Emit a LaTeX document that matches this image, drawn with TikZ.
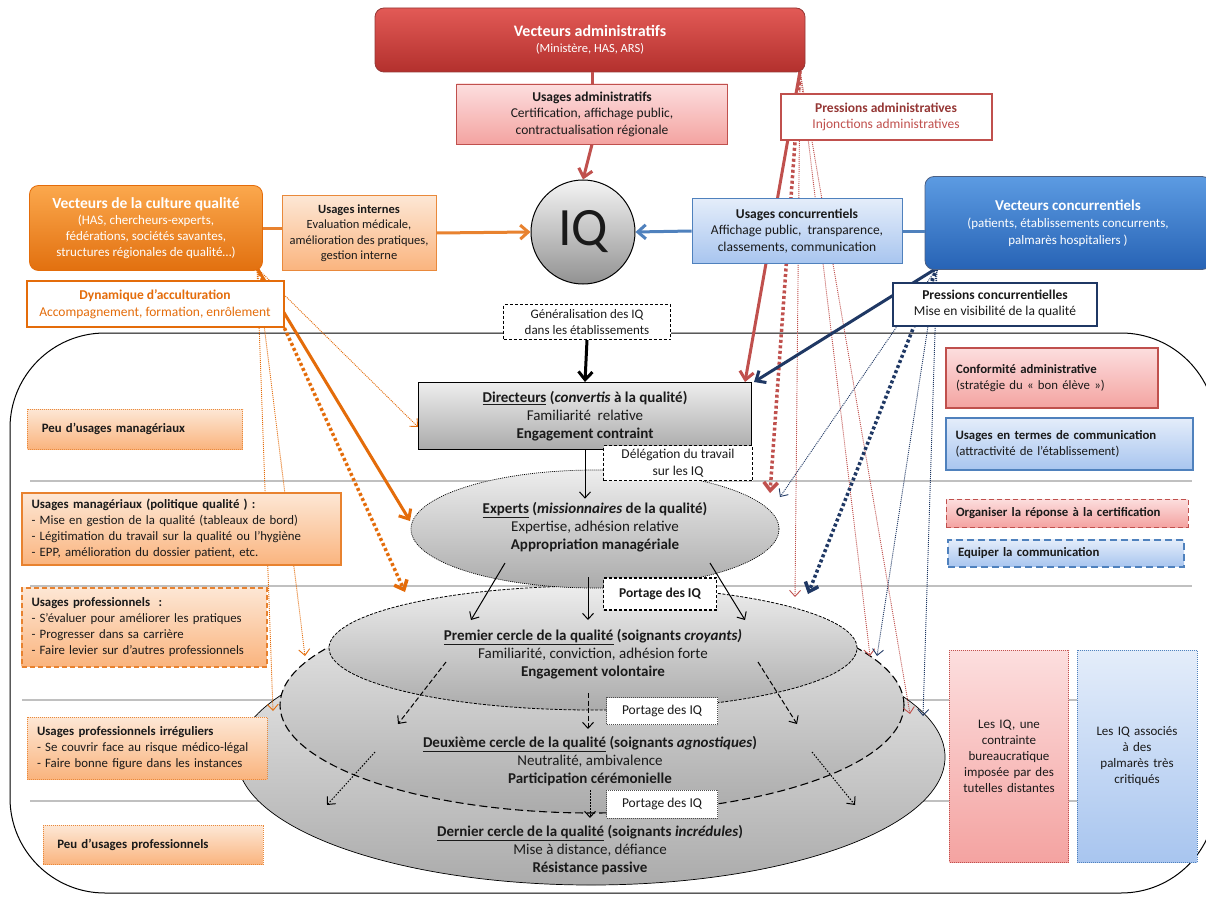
\documentclass[tikz,border=0pt]{standalone}
\usepackage{fontspec}
\setmainfont{Carlito}
\usetikzlibrary{arrows.meta}
\usetikzlibrary{shapes.geometric}

\definecolor{txt}{HTML}{1A1A1A}
\definecolor{admred}{HTML}{C0504D}
\definecolor{admdark}{HTML}{953735}
\definecolor{vadmtop}{HTML}{E25A56}
\definecolor{vadmbot}{HTML}{B3302D}
\definecolor{lredtop}{HTML}{FCDEDE}
\definecolor{lredbot}{HTML}{F4A3A1}
\definecolor{orng}{HTML}{E46C0A}
\definecolor{vcultop}{HTML}{FBA84D}
\definecolor{vculbot}{HTML}{E2700F}
\definecolor{lorgtop}{HTML}{FDE7D5}
\definecolor{lorgbot}{HTML}{FAB47E}
\definecolor{blu}{HTML}{4F81BD}
\definecolor{navy}{HTML}{1F3864}
\definecolor{vcontop}{HTML}{5C9BE2}
\definecolor{vconbot}{HTML}{2763B5}
\definecolor{lblutop}{HTML}{E4EDFA}
\definecolor{lblubot}{HTML}{A8C5EF}
\definecolor{ringtop}{HTML}{EDEDED}
\definecolor{ringbot}{HTML}{ABABAB}
\definecolor{sepgray}{HTML}{C0C0C0}

\begin{document}
\begin{tikzpicture}[x=1pt, y=-1pt,
  every node/.style={font=\fontsize{13.5}{16.5}\selectfont, text=txt},
  sz/.style 2 args={minimum width=#1, minimum height=#2},
  vect/.style={rounded corners=9pt, text=white, align=center, line width=0.8pt},
  pale/.style={align=center, line width=0.8pt},
  press/.style={fill=white, line width=2pt, align=center},
  side/.style={align=left, inner xsep=10pt, line width=1pt, font=\fontsize{12.8}{16}\selectfont},
  ring/.style={ellipse, top color=ringtop, bottom color=ringbot, draw=black, inner sep=0pt},
  ringtxt/.style={align=center, font=\fontsize{15}{18}\selectfont},
  lab/.style={fill=white, draw=black, align=center},
  redshade/.style={top color=lredtop, bottom color=lredbot},
  orgshade/.style={top color=lorgtop, bottom color=lorgbot},
  blushade/.style={top color=lblutop, bottom color=lblubot},
  vtip/.style={-{Straight Barb[length=6pt,width=11pt]}},
  bigtip/.style={-{Straight Barb[length=8pt,width=14pt]}},
  fat/.style={line width=3pt},
  fatdot/.style={line width=3.5pt, dash pattern=on 3pt off 2.5pt},
  fine/.style={line width=0.9pt, dash pattern=on 1pt off 1pt},
  sep/.style={draw=sepgray, line width=1.5pt}]

\useasboundingbox (0,0) rectangle (1206,896);
\clip (0,0) rectangle (1206,896);
\fill[white] (0,0) rectangle (1206,896);

% the establishment
\draw[sep] (30,481) -- (1192,481);
\draw[sep] (30,586) -- (1192,586);
\draw[sep] (22,700) -- (1192,700);
\draw[sep] (30,801) -- (1192,801);
\draw[line width=1pt, rounded corners=95pt] (10,333) rectangle (1216,893);

% circles of quality
\node[ring, sz={708}{256}, line width=0.7pt] (dern) at (591,757) {};
\node[ring, sz={624}{216}, line width=1.1pt, dash pattern=on 8pt off 4pt] (deux) at (592,705) {};
\node[ring, sz={528}{124}, line width=0.8pt, dash pattern=on 3pt off 1.5pt] (prem) at (593,648) {};
\node[ring, sz={368}{118}, line width=0.7pt, dash pattern=on 1pt off 1pt] (exp) at (595,529) {};
\node[ringtxt, draw=black, line width=1pt, top color=ringtop, bottom color=ringbot, sz={333}{67}, inner sep=1pt] (dir) at (585,416)
  {{\bfseries\underline{Directeurs} (\textit{convertis} à la qualité)}\\Familiarité\ \ relative\\{\bfseries Engagement contraint}};

\node[ringtxt] (expT) at (595,527)
  {{\bfseries\underline{Experts} (\textit{missionnaires} de la qualité)}\\Expertise, adhésion relative\\{\bfseries Appropriation managériale}};
\node[ringtxt] (premT) at (593,654)
  {{\bfseries\underline{Premier cercle de la qualité} (soignants \textit{croyants)}}\\Familiarité, conviction, adhésion forte\\{\bfseries Engagement volontaire}};
\node[ringtxt] (deuxT) at (590,761)
  {{\bfseries\underline{Deuxième cercle de la qualité} (soignants \textit{agnostiques})}\\Neutralité, ambivalence\\{\bfseries Participation cérémonielle}};
\node[ringtxt] (dernT) at (590,850)
  {{\bfseries\underline{Dernier cercle de la qualité} (soignants \textit{incrédules})}\\Mise à distance, défiance\\{\bfseries Résistance passive}};

% arrows between circles
\coordinate (e1) at (505,563); \coordinate (p1) at (471,620);
\coordinate (e2) at (588,577); \coordinate (p2) at (588,620);
\coordinate (e3) at (710,563); \coordinate (p3) at (745,620);
\coordinate (q1) at (446,662); \coordinate (d1) at (398,724);
\coordinate (q2) at (588,693); \coordinate (d2) at (588,729);
\coordinate (q3) at (758,662); \coordinate (d3) at (797,724);
\coordinate (s1) at (375,752); \coordinate (t1) at (327,805);
\coordinate (s2) at (590,790); \coordinate (t2) at (590,818);
\coordinate (s3) at (812,752); \coordinate (t3) at (855,805);
\draw[vtip, line width=1pt] (dir.south) -- (dir.south |- expT.north);
\foreach \a/\b in {e1/p1, e2/p2, e3/p3}
  \draw[vtip, line width=1pt] (\a) -- (\b);
\foreach \a/\b in {q1/d1, q2/d2, q3/d3}
  \draw[vtip, line width=1pt, dash pattern=on 5pt off 2.5pt] (\a) -- (\b);
\foreach \a/\b in {s1/t1, s2/t2, s3/t3}
  \draw[vtip, line width=1pt, dash pattern=on 1.5pt off 1.5pt] (\a) -- (\b);

% pressions
\coordinate (aorg) at (800,71);
\coordinate (corg) at (257,268);
\coordinate (borg) at (937,268);
\coordinate (rExp) at (770,493); \coordinate (rPrem) at (795,597);
\coordinate (rDeux) at (870,656); \coordinate (rDern) at (910,714);
\coordinate (bExp) at (780,497); \coordinate (bPrem) at (808,594);
\coordinate (bDeux) at (877,656); \coordinate (bDern) at (923,716);
\coordinate (oExp) at (410,521); \coordinate (oPrem) at (405,592);
\coordinate (oDir) at (418,427); \coordinate (oDeux) at (305,656);
\coordinate (oDern) at (273,711);

\draw[admred, fat, bigtip] (aorg) -- ([xshift=-7pt]dir.north east);
\draw[admred, fatdot, bigtip] (aorg) -- (rExp);
\draw[admred, fine, vtip] (aorg) -- (rPrem);
\draw[admred, fine, vtip] (aorg) -- (rDeux);
\draw[admred, fine, vtip] (aorg) -- (rDern);

\draw[navy, fat, bigtip] (borg) -- ([xshift=2pt]dir.north east);
\draw[navy, fine, vtip] (borg) -- (bExp);
\draw[navy, fatdot, bigtip] (borg) -- (bPrem);
\draw[navy, fine, vtip] (borg) -- (bDeux);
\draw[navy, fine, vtip] (borg) -- (bDern);

\draw[orng, fat, bigtip] (corg) -- (oExp);
\draw[orng, fatdot, bigtip] (corg) -- (oPrem);
\draw[orng, fine, vtip] (corg) -- (oDir);
\draw[orng, fine, vtip] (corg) -- (oDeux);
\draw[orng, fine, vtip] (corg) -- (oDern);

% the three vectors
\node[vect, sz={430}{64}, draw=admdark, top color=vadmtop, bottom color=vadmbot, font=\fontsize{12.5}{16}\selectfont] (vadm) at (590,40)
  {{\fontsize{16}{20}\selectfont\bfseries Vecteurs administratifs}\\(Ministère, HAS, ARS)};
\node[vect, sz={233}{85}, draw=orng, top color=vcultop, bottom color=vculbot, font=\fontsize{13}{16}\selectfont, inner sep=1pt] (vcul) at (146,228)
  {{\fontsize{15.5}{19}\selectfont\bfseries Vecteurs de la culture qualité}\\(HAS, chercheurs-experts,\\fédérations, sociétés savantes,\\structures régionales de qualité…)};
\node[vect, sz={286}{93}, draw=navy!80, top color=vcontop, bottom color=vconbot, font=\fontsize{13}{17}\selectfont] (vcon) at (1068,223)
  {{\fontsize{15}{20}\selectfont\bfseries Vecteurs concurrentiels}\\(patients, établissements concurrents,\\palmarès hospitaliers )};

\node[pale, sz={271}{60}, draw=admred, redshade, inner sep=1pt] (uadm) at (592,114)
  {{\bfseries Usages administratifs}\\Certification, affichage public,\\contractualisation régionale};
\node[pale, sz={154}{75}, draw=orng!80, orgshade, inner sep=1pt, font=\fontsize{12.5}{15.5}\selectfont] (uint) at (359,233)
  {{\bfseries Usages internes}\\Evaluation médicale,\\amélioration des pratiques,\\gestion interne};
\node[pale, sz={210}{65}, draw=blu, blushade, inner sep=1pt] (ucon) at (797,231)
  {{\bfseries Usages concurrentiels}\\Affichage public,\ \ transparence,\\classements, communication};

\node[circle, draw=black, line width=1pt, top color=ringtop!60, bottom color=ringbot!85!black, minimum size=104pt,
  inner sep=0pt, font=\fontsize{54}{54}\selectfont] (iq) at (583,232) {IQ};

\node[lab, dash pattern=on 3pt off 2pt, line width=1pt, sz={167}{35}, inner sep=1pt,
  font=\fontsize{13}{15.5}\selectfont] (gen) at (587,322) {Généralisation des IQ\\dans les établissements};

% connectors of the vectors
\draw[admred, fat] (uadm.north |- vadm.south) -- (uadm.north);
\draw[admred, fat, bigtip] (uadm.south) -- (iq.north);
\draw[orng!85, fat] (vcul.east) -- (vcul.east -| uint.west);
\draw[orng!85, fat, bigtip] (uint.east) -- (iq.west);
\draw[blu, fat] (ucon.east) -- (ucon.east -| vcon.west);
\draw[blu, fat, bigtip] (ucon.west) -- (iq.east);
\draw[black, fat, bigtip] (gen.south) -- (dir.north);

\node[press, draw=admred, sz={211}{46}, inner sep=1pt] (padm) at (886,117)
  {\textcolor{admdark}{\bfseries Pressions administratives}\\\textcolor{admred}{Injonctions administratives}};
\node[press, draw=orng, sz={257}{46}, text=orng, inner sep=1pt] (dyn) at (155,304)
  {{\bfseries Dynamique d’acculturation}\\Accompagnement, formation, enrôlement};
\node[press, draw=navy, sz={204}{43}, inner sep=1pt] (pcon) at (995,304)
  {{\bfseries Pressions concurrentielles}\\Mise en visibilité de la qualité};

% labels inside the establishment
\node[lab, dash pattern=on 3pt off 2pt, line width=1pt, sz={149}{35}, inner sep=1pt] (deleg) at (678,463)
  {Délégation du travail\\sur les IQ};
\node[lab, dash pattern=on 3pt off 2pt, line width=1.2pt, sz={113}{32}] (port1) at (660,594) {\bfseries Portage des IQ};
\node[lab, draw=black!70, dash pattern=on 1pt off 1pt, line width=0.6pt, sz={111}{27}] (port2) at (662,711) {Portage des IQ};
\node[lab, draw=black!70, dash pattern=on 1pt off 1pt, line width=0.6pt, sz={111}{28}] (port3) at (662,804) {Portage des IQ};

% managerial and professional uses
\node[side, orgshade, draw=orng!80, dash pattern=on 1pt off 1pt, text width=195pt, minimum height=40pt] (peuman) at (135,429)
  {\bfseries\ Peu d’usages managériaux};
\node[side, orgshade, draw=orng!85, line width=2pt, text width=299pt, minimum height=72pt, inner ysep=1pt] (uman) at (181,529)
  {{\bfseries Usages managériaux (politique qualité ) :}\\- Mise en gestion de la qualité (tableaux de bord)\\- Légitimation du travail sur la qualité ou l’hygiène\\- EPP, amélioration du dossier patient, etc.};
\node[side, orgshade, draw=orng!85, line width=2pt, dash pattern=on 5pt off 3pt, text width=225pt, minimum height=79pt] (upro) at (144,627)
  {{\bfseries Usages professionnels\ \ :}\\- S’évaluer pour améliorer les pratiques\\- Progresser dans sa carrière\\- Faire levier sur d’autres professionnels};
\node[side, orgshade, draw=orng!80, dash pattern=on 1pt off 1pt, text width=220pt, minimum height=62pt] (uirr) at (147,748)
  {{\bfseries Usages professionnels irréguliers}\\- Se couvrir face au risque médico-légal\\- Faire bonne figure dans les instances};
\node[side, orgshade, draw=orng!80, dash pattern=on 1pt off 1pt, text width=200pt, minimum height=39pt] (peupro) at (153,845)
  {\bfseries\ Peu d’usages professionnels};

% strategies
\node[side, redshade, draw=admred, line width=2pt, text width=192pt, minimum height=60pt] (conf) at (1052,378)
  {{\bfseries Conformité administrative}\\(stratégie du « bon élève »)};
\node[side, blushade, draw=blu, line width=2pt, text width=227pt, minimum height=52pt] (ucom) at (1069,444)
  {{\bfseries Usages en termes de communication}\\(attractivité de l’établissement)};
\node[side, redshade, draw=admred, line width=1pt, dash pattern=on 5pt off 3pt, text width=222pt, minimum height=28pt] (orgc) at (1067,513)
  {\bfseries Organiser la réponse à la certification};
\node[side, blushade, draw=blu, line width=2pt, dash pattern=on 7pt off 4pt, text width=216pt, minimum height=27pt] (equip) at (1066,553)
  {\bfseries Equiper la communication};
\node[redshade, draw=admred, dash pattern=on 1pt off 1pt, line width=0.8pt, sz={119}{212}, align=center, text width=112pt,
  font=\fontsize{13}{16}\selectfont] (rtall) at (1009,756)
  {Les IQ, une\\contrainte\\bureaucratique\\imposée par des\\tutelles distantes};
\node[blushade, draw=blu, dash pattern=on 1pt off 1pt, line width=0.8pt, sz={120}{212}, align=center, text width=112pt,
  font=\fontsize{13}{16}\selectfont] (btall) at (1137,756)
  {Les IQ associés\\à des\\palmarès très\\critiqués};
\end{tikzpicture}
\end{document}
